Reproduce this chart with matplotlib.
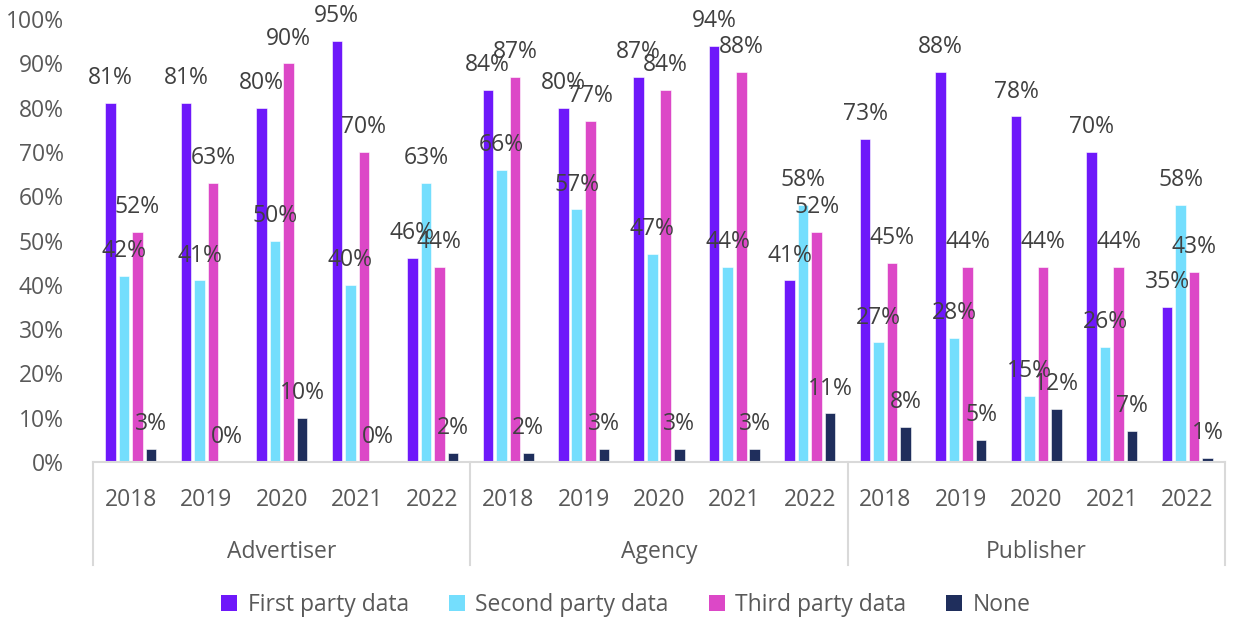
import matplotlib
matplotlib.use('Agg')
import matplotlib.pyplot as plt
import numpy as np
from matplotlib.patches import Patch

plt.rcParams['font.family'] = ['Open Sans', 'DejaVu Sans']

# data (percent)
segments = ['Advertiser', 'Agency', 'Publisher']
years = ['2018', '2019', '2020', '2021', '2022']
series = ['First party data', 'Second party data', 'Third party data', 'None']
first_party = [81, 81, 80, 95, 46, 84, 80, 87, 94, 41, 73, 88, 78, 70, 35]
second_party = [42, 41, 50, 40, 63, 66, 57, 47, 44, 58, 27, 28, 15, 26, 58]
third_party = [52, 63, 90, 70, 44, 87, 77, 84, 88, 52, 45, 44, 44, 44, 43]
none_data = [3, 0, 10, 0, 2, 2, 3, 3, 3, 11, 8, 5, 12, 7, 1]

colors = ['#6E18FA', '#74DEFD', '#DC48C7', '#1F2E5C']
label_col = '#404040'
tick_col = '#595959'
line_col = '#D9D9D9'
fs = 16.5

fig = plt.figure(figsize=(12.36, 6.18), dpi=100)
ax = fig.add_axes([93 / 1236, 1 - 462 / 618, (1225 - 93) / 1236, 443 / 618])

n = len(segments) * len(years)
x = np.arange(n)
step = 0.179
width = 0.14
all_vals = [first_party, second_party, third_party, none_data]
for i, (vals, c) in enumerate(zip(all_vals, colors)):
    xs = x + (i - 1.5) * step
    ax.bar(xs, vals, width=width, color=c, edgecolor='white', linewidth=0.4, zorder=2)
    for xi, v in zip(xs, vals):
        ax.annotate(f'{v}%', (xi, v), xytext=(0, 13.5), textcoords='offset points',
                    ha='center', va='baseline', fontsize=fs, color=label_col,
                    annotation_clip=False)

ax.set_xlim(-0.5, n - 0.5)
ax.set_ylim(0, 100)
ax.set_yticks(range(0, 101, 10))
ax.set_yticklabels([f'{t}%' for t in range(0, 101, 10)])
ax.tick_params(axis='y', length=0, pad=21, labelsize=fs, labelcolor=tick_col)
ax.set_xticks([])
for s in ['top', 'right', 'left']:
    ax.spines[s].set_visible(False)
ax.spines['bottom'].set_color(line_col)
ax.spines['bottom'].set_linewidth(1.5)

tr = ax.get_xaxis_transform()
for k, seg in enumerate(segments):
    for j, yr in enumerate(years):
        ax.text(k * 5 + j, -0.086, yr, transform=tr, ha='center', va='center',
                fontsize=fs, color=tick_col)
    ax.text(k * 5 + 2, -0.203, seg, transform=tr, ha='center', va='center',
            fontsize=fs, color=tick_col)
for b in range(len(segments) + 1):
    ax.plot([b * 5 - 0.5, b * 5 - 0.5], [0, -0.2325], transform=tr, color=line_col,
            lw=1.5, clip_on=False)

handles = [Patch(facecolor=c, label=s) for c, s in zip(colors, series)]
leg = fig.legend(handles=handles, loc='center', bbox_to_anchor=(626 / 1236, 1 - 605 / 618),
                 ncol=4, frameon=False, fontsize=fs, handlelength=0.7, handleheight=0.7,
                 handletextpad=0.45, columnspacing=1.75)
for t in leg.get_texts():
    t.set_color(tick_col)

fig.savefig('out.png', dpi=100)
